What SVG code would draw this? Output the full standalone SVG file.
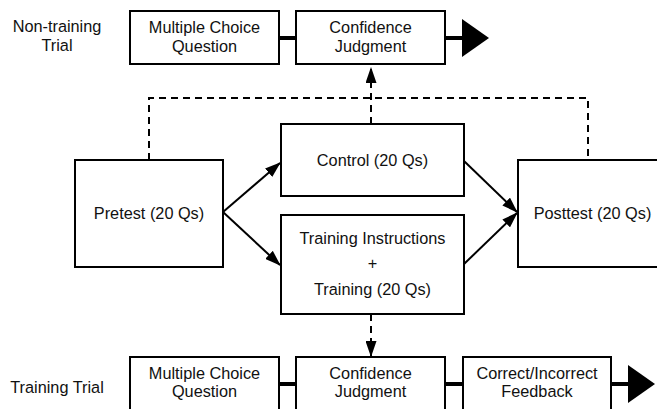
<svg xmlns="http://www.w3.org/2000/svg" width="657" height="409" viewBox="0 0 657 409">
<style>
.box{fill:#fff;stroke:#000;stroke-width:2}
.t{font-family:"Liberation Sans",Arial,sans-serif;font-size:16.3px;fill:#111;text-anchor:middle}
.c{fill:none;stroke:#000;stroke-width:2}
.thick{fill:none;stroke:#000;stroke-width:4}
.dash{fill:none;stroke:#000;stroke-width:2;stroke-dasharray:7 5}
</style>
<defs>
<marker id="ah" markerUnits="userSpaceOnUse" viewBox="0 0 16 11" markerWidth="16" markerHeight="11" refX="15" refY="5.5" orient="auto"><path d="M0,0 L16,5.5 L0,11 z" fill="#000"/></marker>
<marker id="big" markerUnits="userSpaceOnUse" viewBox="0 0 27 38" markerWidth="27" markerHeight="38" refX="0" refY="19" orient="auto"><path d="M0,0 L27,19 L0,38 z" fill="#000"/></marker>
</defs>
<rect width="657" height="409" fill="#fff"/>

<g id="connectors">
<path class="dash" d="M149,160 V98 H588 V160"/>
<path class="dash" d="M371,124 V68" marker-end="url(#ah)"/>
<path class="dash" d="M371,314 V356" marker-end="url(#ah)"/>
<path class="c" d="M223,212 L280,163" marker-end="url(#ah)"/>
<path class="c" d="M223,212 L280,265" marker-end="url(#ah)"/>
<path class="c" d="M464,161 L517,212" marker-end="url(#ah)"/>
<path class="c" d="M464,264 L517,213" marker-end="url(#ah)"/>
<path class="thick" d="M279,38 H296"/>
<path class="thick" d="M445,38 H462" marker-end="url(#big)"/>
<path class="thick" d="M279,384 H296"/>
<path class="thick" d="M445,384 H463"/>
<path class="thick" d="M611,384 H628" marker-end="url(#big)"/>
</g>

<g id="label-nontraining"><text class="t" x="57" y="32">Non-training</text><text class="t" x="57" y="51">Trial</text></g>
<g id="label-training"><text class="t" x="57" y="393">Training Trial</text></g>

<g id="nt-mcq"><rect class="box" x="130" y="11" width="149" height="53"/><text class="t" x="204.5" y="32.5">Multiple Choice</text><text class="t" x="204.5" y="51.5">Question</text></g>
<g id="nt-conf"><rect class="box" x="296" y="11" width="149" height="53"/><text class="t" x="370.5" y="32.5">Confidence</text><text class="t" x="370.5" y="51.5">Judgment</text></g>

<g id="pretest"><rect class="box" x="75" y="160" width="148" height="107"/><text class="t" x="149" y="219">Pretest (20 Qs)</text></g>
<g id="control"><rect class="box" x="281" y="124" width="183" height="72"/><text class="t" x="372.5" y="165.5">Control (20 Qs)</text></g>
<g id="training"><rect class="box" x="281" y="215" width="183" height="99"/><text class="t" x="372.5" y="244">Training Instructions</text><text class="t" x="372.5" y="269">+</text><text class="t" x="372.5" y="295">Training (20 Qs)</text></g>
<g id="posttest"><rect class="box" x="518" y="160" width="150" height="107"/><text class="t" x="592.5" y="219">Posttest (20 Qs)</text></g>

<g id="t-mcq"><rect class="box" x="130" y="357" width="149" height="54"/><text class="t" x="204.5" y="378.5">Multiple Choice</text><text class="t" x="204.5" y="397">Question</text></g>
<g id="t-conf"><rect class="box" x="296" y="357" width="149" height="54"/><text class="t" x="370.5" y="378.5">Confidence</text><text class="t" x="370.5" y="397">Judgment</text></g>
<g id="t-feedback"><rect class="box" x="463" y="357" width="148" height="54"/><text class="t" x="537" y="378.5">Correct/Incorrect</text><text class="t" x="537" y="397">Feedback</text></g>
</svg>
